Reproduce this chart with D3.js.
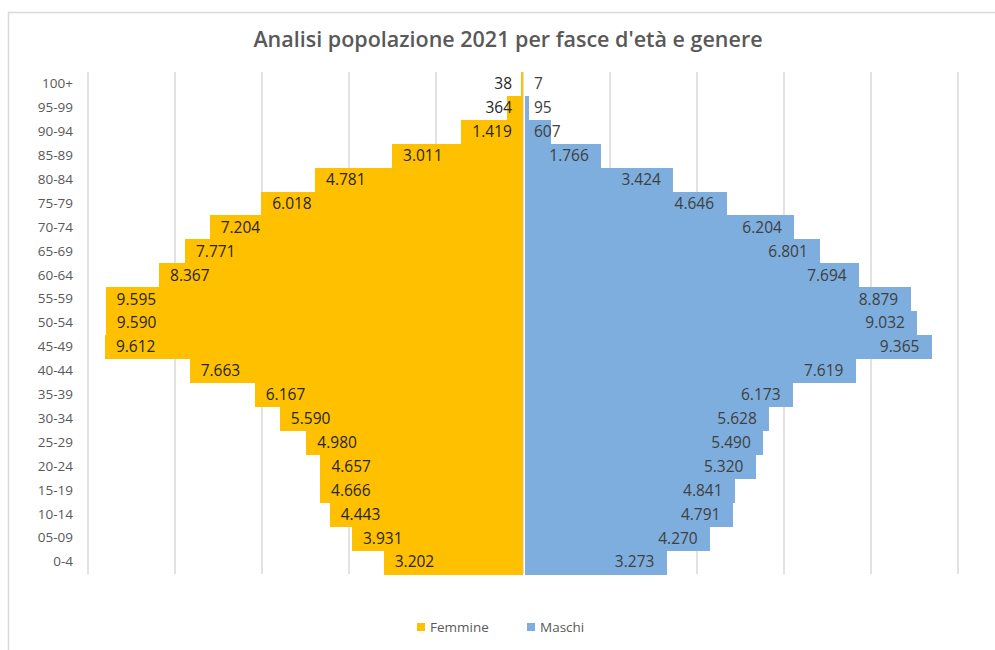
<!DOCTYPE html>
<meta charset="utf-8">
<style>
  body { margin: 0; background: #fff; }
  text { font-family: "Open Sans", Lato, sans-serif; }
  .bar { shape-rendering: crispEdges; }
</style>
<script src="https://d3js.org/d3.v7.min.js"></script>
<div id="chart"></div>
<script>

// age classes, from the top of the chart down
var classi = ["100+","95-99","90-94","85-89","80-84","75-79","70-74","65-69","60-64","55-59",
  "50-54","45-49","40-44","35-39","30-34","25-29","20-24","15-19","10-14","05-09","0-4"];

var femmine = [38,364,1419,3011,4781,6018,7204,7771,8367,9595,
  9590,9612,7663,6167,5590,4980,4657,4666,4443,3931,3202];

var maschi = [7,95,607,1766,3424,4646,6204,6801,7694,8879,
  9032,9365,7619,6173,5628,5490,5320,4841,4791,4270,3273];

var gridTicks = [-10000,-8000,-6000,-4000,-2000,0,2000,4000,6000,8000,10000];

var W = 995, H = 650;
var margin = {top: 72, right: 37, bottom: 76, left: 88};

var svg = d3.select("#chart").append("svg")
    .attr("width", W)
    .attr("height", H);

// chart border (Excel chart area)
svg.append("rect")
    .attr("x", 8.5).attr("y", 12.5)
    .attr("width", 995).attr("height", 660)
    .style("fill", "white")
    .style("stroke", "#D9D9D9")
    .style("stroke-width", 1.5);

svg.append("text")
    .attr("x", 508)
    .attr("y", 47)
    .attr("text-anchor", "middle")
    .style("font-size", "21.5px")
    .style("font-weight", 600)
    .style("fill", "#595959")
    .text("Analisi popolazione 2021 per fasce d'età e genere");

var x = d3.scaleLinear()
    .domain([-10000, 10000])
    .range([margin.left, W - margin.right]);

var y = d3.scaleBand()
    .domain(classi)
    .range([margin.top, H - margin.bottom])
    .padding(0);

// vertical gridlines
svg.append("g")
  .selectAll("line")
  .data(gridTicks)
  .enter()
  .append("line")
    .attr("x1", function(d){ return x(d) })
    .attr("x2", function(d){ return x(d) })
    .attr("y1", margin.top)
    .attr("y2", H - margin.bottom)
    .style("stroke", "#D9D9D9")
    .style("stroke-width", 1.5);

// category axis labels
var yAxis = svg.append("g")
    .attr("transform", "translate(" + (margin.left - 15) + ",0)")
    .call(d3.axisLeft(y).tickSize(0).tickPadding(0));
yAxis.select(".domain").remove();
yAxis.selectAll("text")
    .style("font-family", "'Open Sans', sans-serif")
    .style("font-size", "13.5px")
    .style("fill", "#595959");

var fmt = function(v){ return d3.format(",")(v).replace(/,/g, "."); };

// bars
svg.append("g")
  .selectAll("rect")
  .data(femmine)
  .enter()
  .append("rect")
    .attr("class", "bar")
    .attr("x", function(d){ return x(-d) })
    .attr("y", function(d,i){ return y(classi[i]) })
    .attr("width", function(d){ return x(0) - x(-d) - 0.5 })
    .attr("height", y.bandwidth() + 0.5)
    .style("fill", "#FFC000");

svg.append("g")
  .selectAll("rect")
  .data(maschi)
  .enter()
  .append("rect")
    .attr("class", "bar")
    .attr("x", x(0) + 1.5)
    .attr("y", function(d,i){ return y(classi[i]) })
    .attr("width", function(d){ return x(d) - x(0) })
    .attr("height", y.bandwidth() + 0.5)
    .style("fill", "#7DAEDD");

var pad = 11;

// data labels, inside end (pushed toward the base when they don't fit)
svg.append("g")
  .selectAll("text")
  .data(femmine)
  .enter()
  .append("text")
    .attr("y", function(d,i){ return y(classi[i]) + y.bandwidth()/2 })
    .attr("dy", "0.35em")
    .style("font-size", "15.5px")
    .style("fill", "#262626")
    .text(function(d){ return fmt(d) })
    .attr("x", function(d){
      var w = this.getComputedTextLength();
      return Math.min(x(-d) + pad, x(0) - pad - w);
    });

svg.append("g")
  .selectAll("text")
  .data(maschi)
  .enter()
  .append("text")
    .attr("y", function(d,i){ return y(classi[i]) + y.bandwidth()/2 })
    .attr("dy", "0.35em")
    .attr("text-anchor", "end")
    .style("font-size", "15.5px")
    .style("fill", "#404040")
    .text(function(d){ return fmt(d) })
    .attr("x", function(d){
      var w = this.getComputedTextLength();
      return Math.max(x(d) - pad, x(0) + pad + w);
    });

// legend
var legendData = [
  {name: "Femmine", color: "#FFC000", x: 417},
  {name: "Maschi", color: "#7DAEDD", x: 527}
];
var legend = svg.append("g");
legend.selectAll("rect")
  .data(legendData)
  .enter()
  .append("rect")
    .attr("x", function(d){ return d.x })
    .attr("y", 623)
    .attr("width", 8)
    .attr("height", 8)
    .style("fill", function(d){ return d.color });
legend.selectAll("text")
  .data(legendData)
  .enter()
  .append("text")
    .attr("x", function(d){ return d.x + 13 })
    .attr("y", 627)
    .attr("dy", "0.35em")
    .style("font-size", "13.5px")
    .style("fill", "#595959")
    .text(function(d){ return d.name });

</script>
